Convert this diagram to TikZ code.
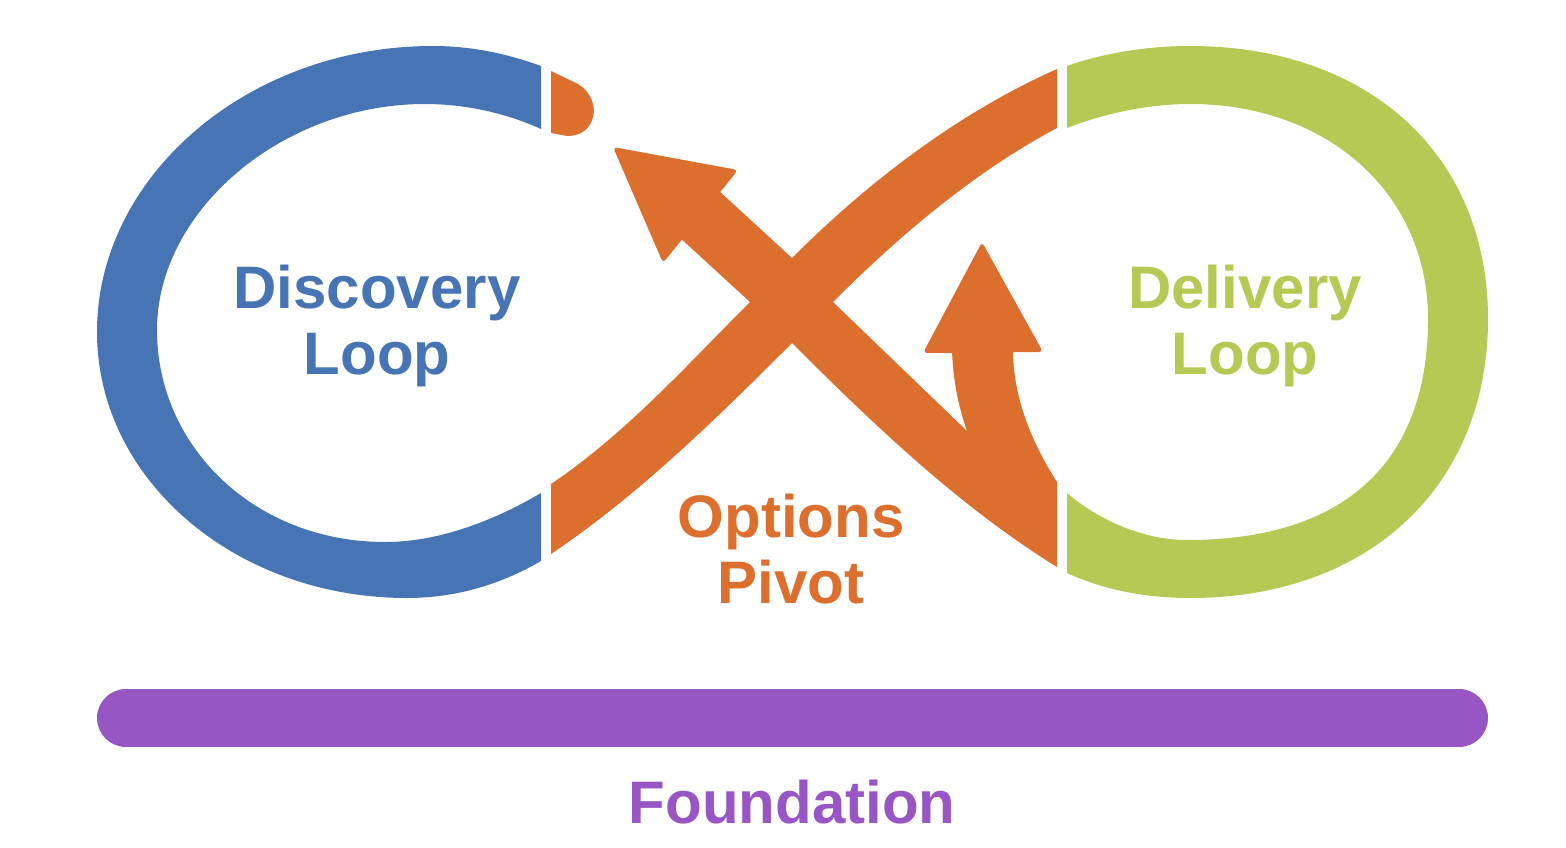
\documentclass[tikz,border=0pt]{standalone}
\usepackage{fontspec}
\newfontfamily\labfont{Liberation Sans}
\definecolor{blueC}{RGB}{70,116,180}
\definecolor{greenC}{RGB}{181,201,84}
\definecolor{orangeC}{RGB}{220,111,46}
\definecolor{purpleC}{RGB}{152,85,196}
\tikzset{
  lab/.style={font=\labfont\bfseries\fontsize{60}{66}\selectfont, inner sep=0pt, anchor=base},
  headtip/.style={rounded corners=4pt},
}
\begin{document}
\begin{tikzpicture}[x=1pt,y=-1pt]
\useasboundingbox (0,0) rectangle (1566,848);

% Discovery loop (blue)
\fill[blueC] (541,66) .. controls (505,53) and (470,46) .. (433,46)
  .. controls (248,46) and (97,176) .. (97,332)
  .. controls (97,480) and (236,598) .. (407,598)
  .. controls (460,598) and (505,582) .. (541,561)
  -- (541,493)
  .. controls (495,520) and (440,542) .. (385,542)
  .. controls (255,542) and (157,447) .. (157,330)
  .. controls (157,210) and (283,104) .. (425,104)
  .. controls (470,104) and (510,115) .. (541,129) -- cycle;

% Delivery loop (green)
\fill[greenC] (1067,66) .. controls (1100,54) and (1145,46) .. (1190,46)
  .. controls (1369,46) and (1488,155) .. (1488,319)
  .. controls (1488,486) and (1369,598) .. (1190,598)
  .. controls (1140,598) and (1100,588) .. (1067,573)
  -- (1067,493)
  .. controls (1090,513) and (1135,540) .. (1187,540)
  .. controls (1344,540) and (1428,463) .. (1428,319)
  .. controls (1428,194) and (1328,104) .. (1190,104)
  .. controls (1145,104) and (1100,115) .. (1067,128) -- cycle;

% orange cap at top of discovery loop
\fill[orangeC] (551,71) -- (578,84) .. controls (591,92) and (596,106) .. (593,117) .. controls (590,129) and (581,136) .. (567,136) -- (551,133) -- cycle;

% band from bottom-left to top-right
\fill[orangeC] (551,484) .. controls (625.6,433.7) and (686.4,365.6) .. (750,302)
  -- (792,258) .. controls (868.4,181.6) and (958.3,112.9) .. (1057,69)
  -- (1057,128) .. controls (974,172.1) and (899.5,235.5) .. (833,302)
  -- (792,343) .. controls (716.4,418.6) and (639.7,494.2) .. (551,554) -- cycle;

% band from bottom-right to top-left with branch
\fill[orangeC] (1057,567) -- (1057,482)
  .. controls (1030,440) and (1013,395) .. (1013,350)
  -- (952,350)
  .. controls (953,380) and (958,405) .. (967,431)
  -- (833,302) -- (792,258) -- (718,190)
  -- (678,236) -- (750,302) -- (792,343)
  .. controls (873.3,424.3) and (959.2,506.5) .. (1057,567) -- cycle;

% arrowheads
\fill[orangeC, headtip] (613,147) -- (738,170) -- (663,263) -- cycle;
\fill[orangeC, headtip] (982,242) -- (1043,352) -- (923,353) -- cycle;

% foundation bar
\coordinate (fl) at (126,718);
\coordinate (fr) at (1459,718);
\draw[purpleC, line width=58pt, line cap=round] (fl) -- (fr);

% labels
\node[lab, text=blueC] (disc1) at (377,308) {Discovery};
\node[lab, text=blueC] (disc2) at (377,374) {Loop};
\node[lab, text=greenC] (deli1) at (1245,308) {Delivery};
\node[lab, text=greenC] (deli2) at (1245,374) {Loop};
\node[lab, text=orangeC] (opt1) at (791,537) {Options};
\node[lab, text=orangeC] (opt2) at (791,603) {Pivot};
\node[lab, text=purpleC] (found) at (792,823) {Foundation};
\end{tikzpicture}
\end{document}
